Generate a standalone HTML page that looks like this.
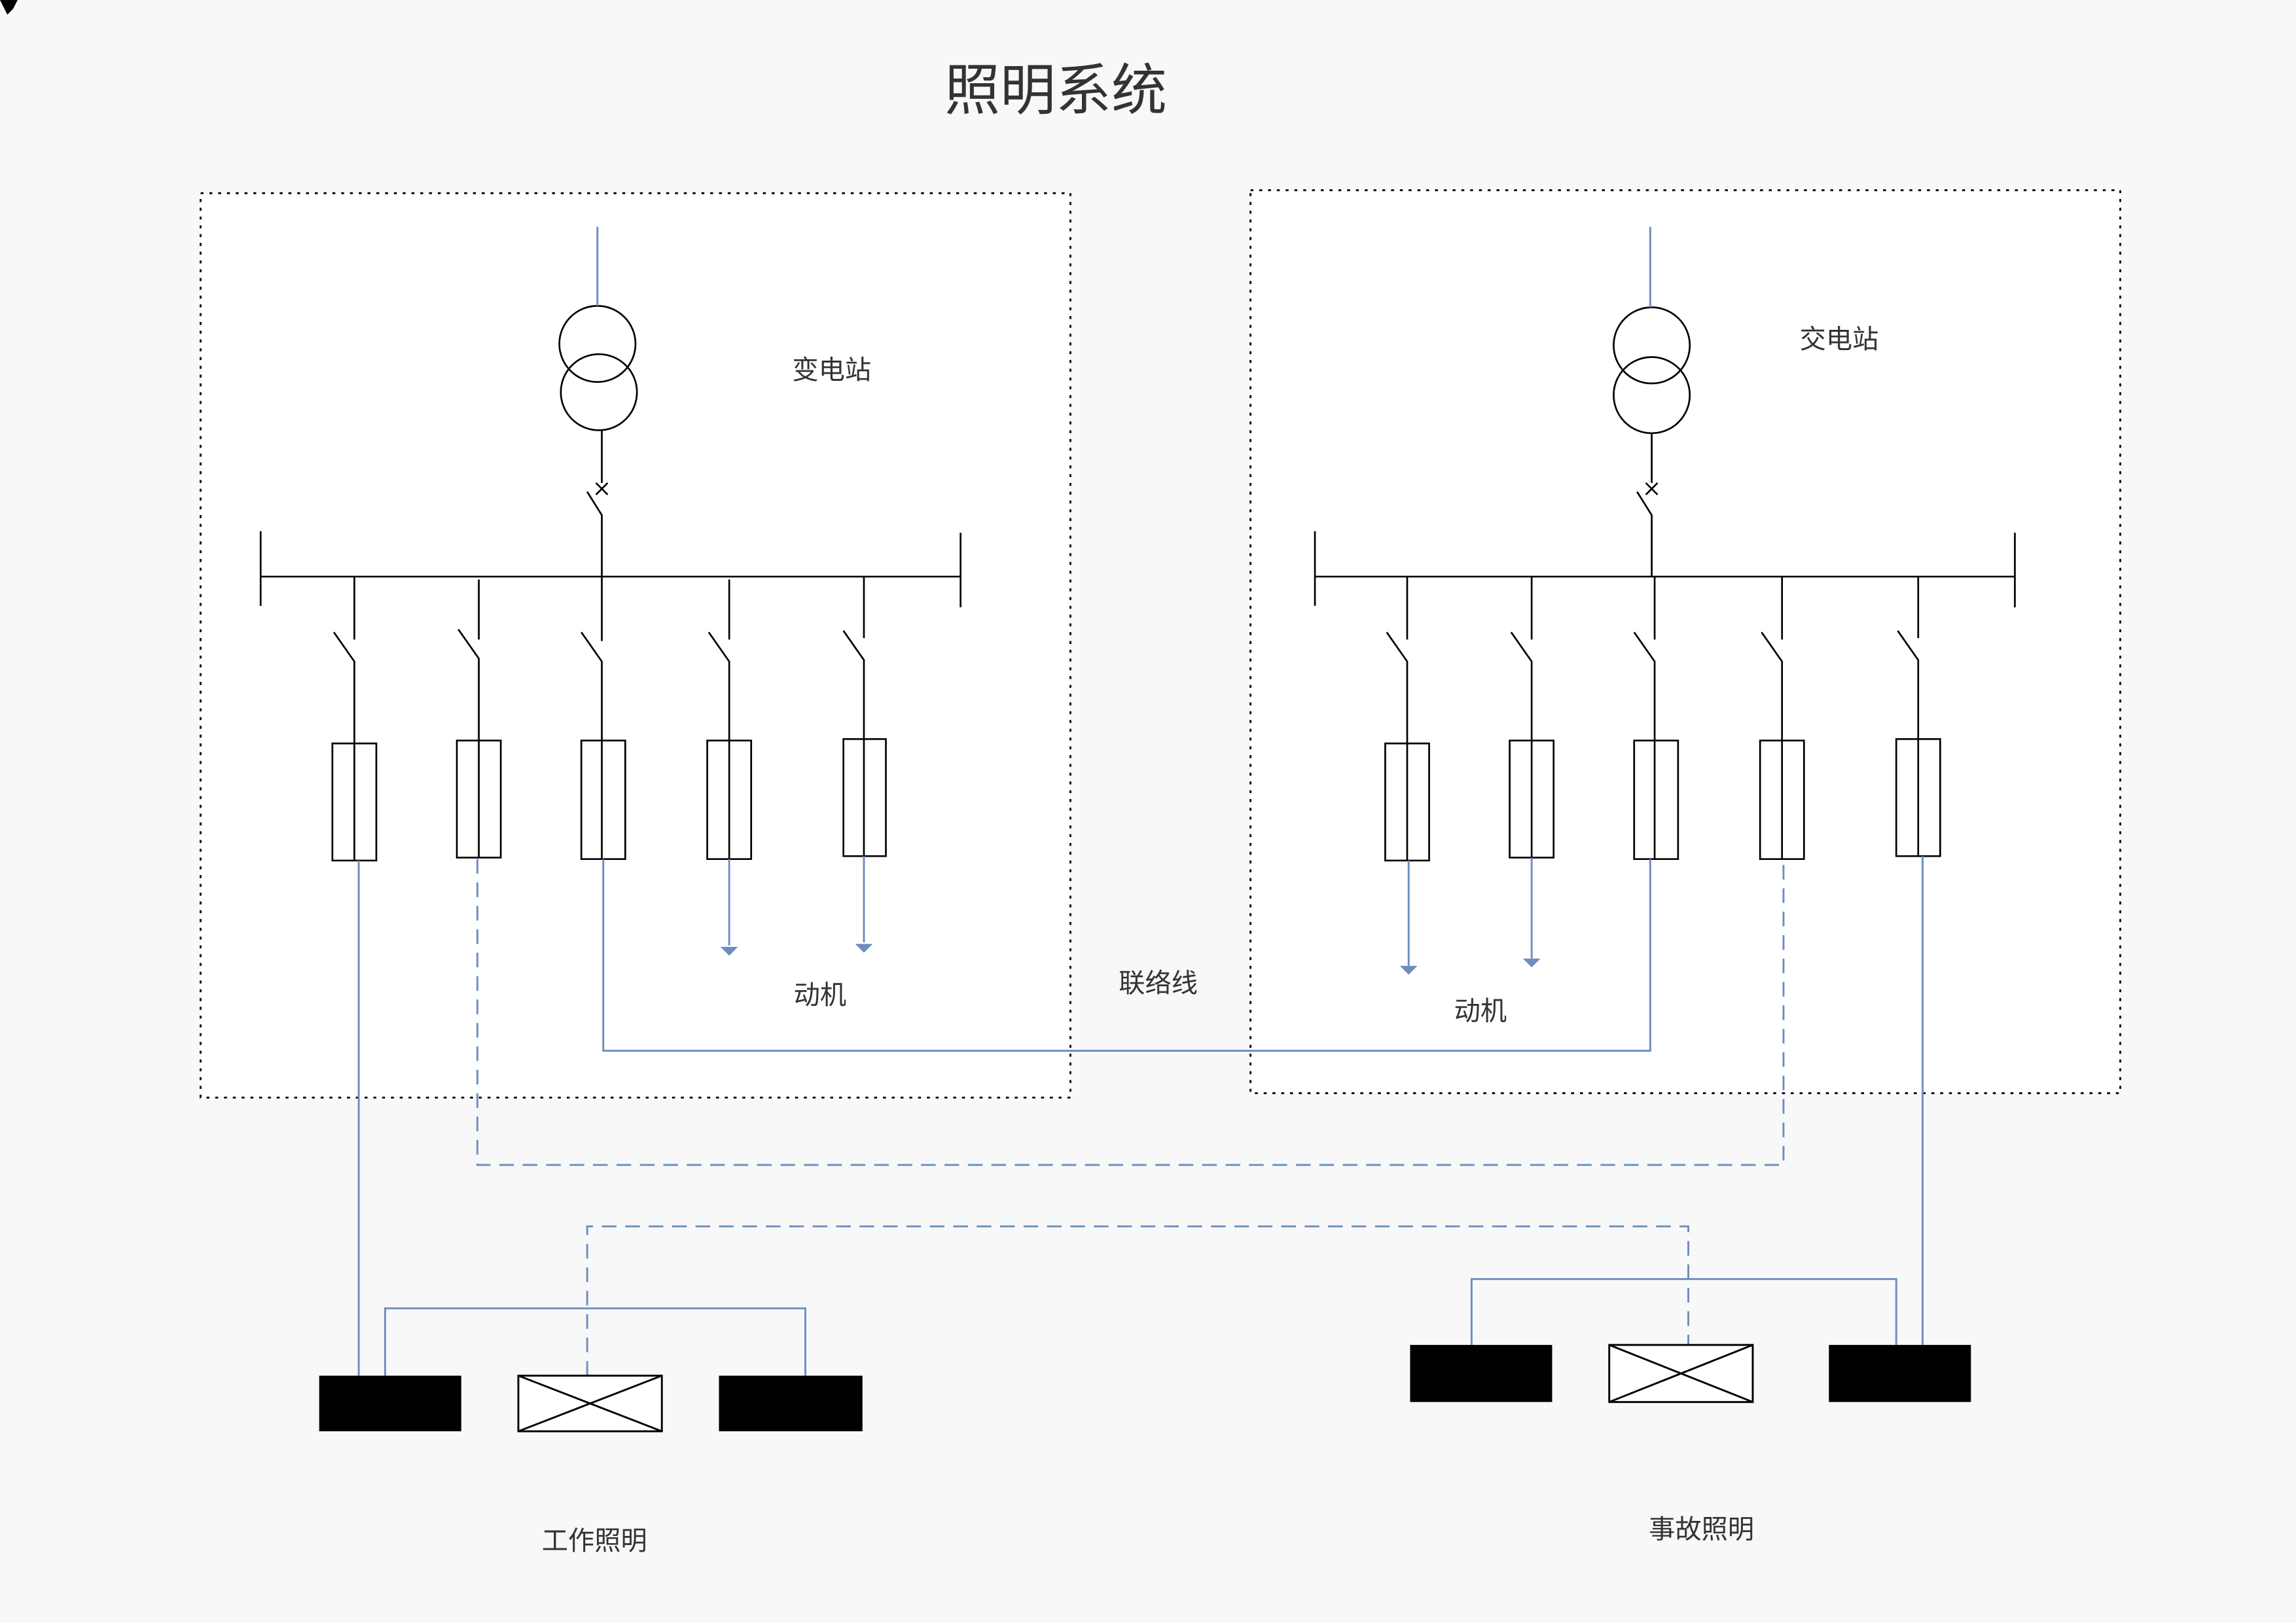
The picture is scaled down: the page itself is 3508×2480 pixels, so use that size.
<!DOCTYPE html>
<html><head><meta charset="utf-8"><style>html,body{margin:0;padding:0;background:#f8f8f8}svg{display:block}</style></head>
<body>
<svg width="3508" height="2480" viewBox="0 0 1568 1109" preserveAspectRatio="none" xmlns="http://www.w3.org/2000/svg" font-family="Liberation Sans, Noto Sans CJK SC, sans-serif">
<rect width="1568" height="1109" fill="#f8f8f8"/>
<polygon points="0,0 12,0 9,6 5,10" fill="#000"/>
<rect x="137" y="132" width="594" height="618" fill="#fff" stroke="#000" stroke-width="1.3" stroke-dasharray="2,4"/>
<rect x="854" y="130" width="594" height="617" fill="#fff" stroke="#000" stroke-width="1.3" stroke-dasharray="2,4"/>
<text x="721" y="75" font-size="38" fill="#333" text-anchor="middle">照明系统</text>
<g font-size="18" fill="#333">
<text x="541" y="259">变电站</text>
<text x="1229" y="238">交电站</text>
<text x="542" y="686">动机</text>
<text x="764" y="678">联络线</text>
<text x="993" y="697">动机</text>
<text x="370" y="1059">工作照明</text>
<text x="1126" y="1051">事故照明</text>
</g>
<g fill="none" stroke="#000" stroke-width="1.2">
<circle cx="408" cy="235" r="26"/><circle cx="409" cy="268" r="26"/>
<path d="M411 294V330M407 330L415 338M415 330L407 338M401 336L411 352V394"/>
<path d="M178 394H656M178 363V414M656 364V415"/>
<circle cx="1128" cy="236" r="26"/><circle cx="1128" cy="270" r="26"/>
<path d="M1128 296V330M1124 330L1132 338M1132 330L1124 338M1118 336L1128 352V394"/>
<path d="M898 394H1376M898 363V414M1376 364V415"/>
</g>
<g fill="none" stroke="#000" stroke-width="1.2">
<path d="M242 394V437M228 432L242 452V588M227 508h30v80h-30z"/>
<path d="M327 396V437M313 430L327 450V586M312 506h30v80h-30z"/>
<path d="M411 394V438M397 432L411 452V587M397 506h30v81h-30z"/>
<path d="M498 396V437M484 432L498 452V587M483 506h30v81h-30z"/>
<path d="M590 394V436M576 431L590 451V585M576 505h29v80h-29z"/>
<path d="M961 394V437M947 432L961 452V588M946 508h30v80h-30z"/>
<path d="M1046 394V437M1032 432L1046 452V586M1031 506h30v80h-30z"/>
<path d="M1130 394V437M1116 432L1130 452V587M1116 506h30v81h-30z"/>
<path d="M1217 394V437M1203 432L1217 452V587M1202 506h30v81h-30z"/>
<path d="M1310 394V436M1296 431L1310 451V585M1295 505h30v80h-30z"/>
</g>
<g fill="none" stroke="#6c8ebf" stroke-width="1.3">
<path d="M408 155V209M1127 155V210"/>
<path d="M245 588V940"/>
<path d="M412 587V718H1127V587"/>
<path d="M498 587V646M590 585V644M962 588V660M1046 586V655"/>
<path d="M1313 585V919"/>
<path d="M263 940V894H550V940"/>
<path d="M1005 919V874H1295V919"/>
<path d="M326 587V796H1218V587" stroke-dasharray="10,6"/>
<path d="M401 940V838H1153V919" stroke-dasharray="10,6"/>
</g>
<g fill="#6c8ebf">
<polygon points="492,647 504,647 498,653"/>
<polygon points="584,645 596,645 590,651"/>
<polygon points="956,660 968,660 962,666"/>
<polygon points="1040,655 1052,655 1046,661"/>
</g>
<rect x="218" y="940" width="97" height="38" fill="#000"/>
<rect x="491" y="940" width="98" height="38" fill="#000"/>
<rect x="963" y="919" width="97" height="39" fill="#000"/>
<rect x="1249" y="919" width="97" height="39" fill="#000"/>
<g fill="#fff" stroke="#000" stroke-width="1.3">
<rect x="354" y="940" width="98" height="38"/><path d="M354 940L452 978M452 940L354 978"/>
<rect x="1099" y="919" width="98" height="39"/><path d="M1099 919L1197 958M1197 919L1099 958"/>
</g>
</svg>
</body></html>
